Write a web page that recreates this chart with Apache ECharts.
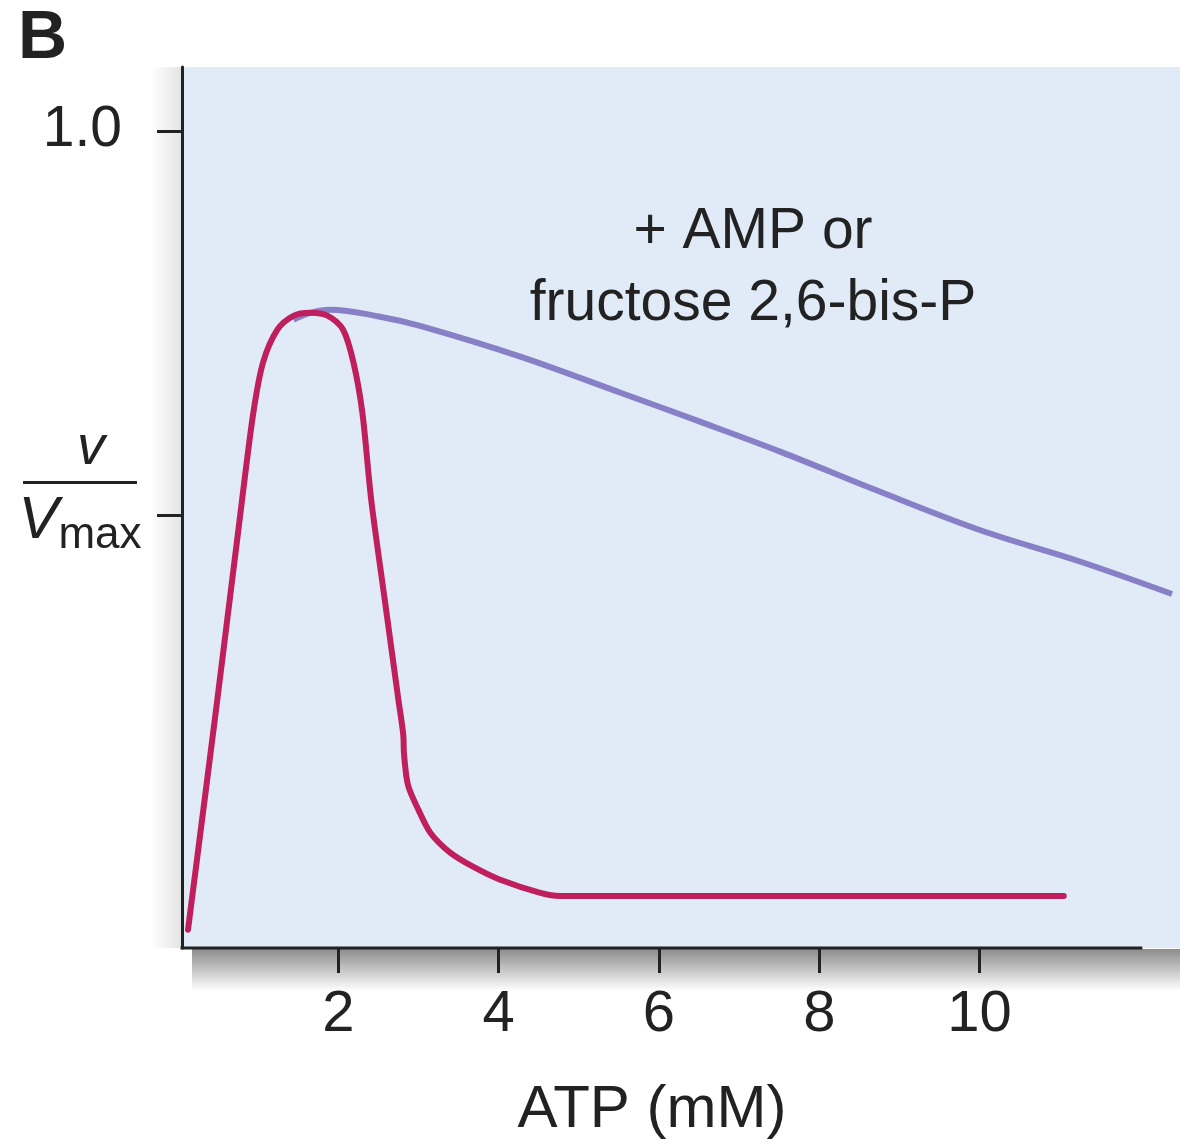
<!DOCTYPE html>
<html>
<head>
<meta charset="utf-8">
<script src="https://cdn.jsdelivr.net/npm/echarts@6/dist/echarts.min.js"></script>
<style>
  html, body { margin: 0; padding: 0; background: #fff; }
  #main { width: 1180px; height: 1145px; }
</style>
</head>
<body>
<div id="main"></div>
<script>
// ATP (mM) vs v/Vmax
var atpNoActivator = [0.125, 0.49, 0.80, 0.94, 1.06, 1.24, 1.44, 1.65, 1.87, 2.06, 2.19, 2.30, 2.41, 2.58, 2.75, 2.81, 2.82, 2.87, 3.0, 3.15, 3.40, 3.68, 4.02, 4.52, 4.77, 11.05];
var vNoActivator   = [-0.040, 0.259, 0.520, 0.633, 0.698, 0.741, 0.759, 0.763, 0.759, 0.741, 0.698, 0.633, 0.520, 0.389, 0.259, 0.214, 0.188, 0.148, 0.116, 0.086, 0.060, 0.042, 0.025, 0.008, 0.004, 0.004];

var atpActivator = [1.44, 1.65, 1.90, 2.52, 3.02, 4.27, 5.52, 6.52, 7.52, 8.76, 10.01, 11.26, 12.40];
var vActivator   = [0.754, 0.763, 0.767, 0.758, 0.746, 0.706, 0.659, 0.621, 0.582, 0.530, 0.480, 0.439, 0.397];

var xTicks = [2, 4, 6, 8, 10];
var yTicks = [0.5, 1.0];
var yLabels = [1.0];

var xMin = 0.05, xMax = 12.5, xAxisEnd = 12.03;
var yMin = -0.0638, yMax = 1.083;

function pairs(xs, ys) {
  var out = [];
  for (var i = 0; i < xs.length; i++) out.push([xs[i], ys[i]]);
  return out;
}

var ink = '#222';
var chart = echarts.init(document.getElementById('main'));

var option = {
  animation: false,
  backgroundColor: '#fff',
  textStyle: { fontFamily: 'Liberation Sans' },
  title: {
    text: 'B', left: 13, top: 0,
    textStyle: { fontSize: 68, fontWeight: 'bold', color: ink, fontFamily: 'Liberation Sans' }
  },
  grid: {
    left: 182, right: 0, top: 67, bottom: 197,
    outerBoundsMode: 'none', containLabel: false,
    show: true, backgroundColor: '#e0ebf7', borderWidth: 0
  },
  xAxis: {
    type: 'value', min: xMin, max: xMax,
    axisLine: { show: false, onZero: false },
    splitLine: { show: false },
    axisTick: { customValues: xTicks, length: 25, lineStyle: { color: ink, width: 3 } },
    axisLabel: { customValues: xTicks, margin: 38, fontSize: 58, color: ink },
    name: 'ATP (mM)', nameLocation: 'middle', nameGap: 132, nameMoveOverlap: false,
    nameTextStyle: { fontSize: 60, color: ink, padding: [0, 58, 0, 0] }
  },
  yAxis: {
    type: 'value', min: yMin, max: yMax,
    axisLine: { show: true, onZero: false, lineStyle: { color: ink, width: 3 } },
    splitLine: { show: false },
    axisTick: { customValues: yTicks, length: 25, lineStyle: { color: ink, width: 3 } },
    axisLabel: {
      customValues: yLabels, margin: 60, fontSize: 57, color: ink,
      formatter: function (v) { return v.toFixed(1); }
    },
    name: '{v|v}\n{bar|}\n{V|V}{sub|max}',
    nameLocation: 'middle', nameRotate: 0, nameGap: 102, nameMoveOverlap: false,
    nameTextStyle: {
      align: 'center', color: ink, padding: [0, 0, 40, 0],
      rich: {
        v: { fontSize: 56, fontStyle: 'italic', lineHeight: 52, color: ink, padding: [0, 0, 0, 22] },
        bar: { width: 114, height: 3, backgroundColor: ink, lineHeight: 16 },
        V: { fontSize: 60, fontStyle: 'italic', lineHeight: 62, color: ink },
        sub: { fontSize: 44, lineHeight: 62, padding: [28, 0, 0, 0], color: ink }
      }
    }
  },
  series: [
    {
      name: '+ AMP or fructose 2,6-bis-P',
      type: 'line',
      data: pairs(atpActivator, vActivator),
      smooth: 0.35,
      showSymbol: false,
      clip: false,
      lineStyle: { color: '#8880c6', width: 6 },
      z: 3
    },
    {
      name: 'ATP alone',
      type: 'line',
      data: pairs(atpNoActivator, vNoActivator),
      smooth: 0.3,
      showSymbol: false,
      clip: false,
      lineStyle: { color: '#bf1f5d', width: 6, cap: 'round' },
      z: 4
    }
  ]
};

chart.setOption(option);

// shadow under the x axis, the shortened axis line and the curve note
var a0 = chart.convertToPixel({ gridIndex: 0 }, [xMin, yMin]);
var a1 = chart.convertToPixel({ gridIndex: 0 }, [xAxisEnd, yMin]);
var gridRight = chart.convertToPixel({ gridIndex: 0 }, [xMax, yMin]);
var gridTop = chart.convertToPixel({ gridIndex: 0 }, [xMin, yMax]);

chart.setOption({
  graphic: [
    {
      type: 'rect', z: -1,
      shape: { x: a0[0] + 10, y: a0[1] + 1, width: gridRight[0] - a0[0], height: 42 },
      style: {
        fill: new echarts.graphic.LinearGradient(0, 0, 0, 1, [
          { offset: 0, color: 'rgba(0,0,0,0.45)' },
          { offset: 1, color: 'rgba(0,0,0,0)' }
        ])
      }
    },
    {
      type: 'rect', z: -1,
      shape: { x: a0[0] - 32, y: gridTop[1], width: 31, height: a0[1] - gridTop[1] },
      style: {
        fill: new echarts.graphic.LinearGradient(0, 0, 1, 0, [
          { offset: 0, color: 'rgba(0,0,0,0)' },
          { offset: 1, color: 'rgba(0,0,0,0.10)' }
        ])
      }
    },
    {
      type: 'line', z: 10,
      shape: { x1: a0[0] - 1.5, y1: a0[1], x2: a1[0], y2: a1[1] },
      style: { stroke: ink, lineWidth: 3 }
    },
    {
      type: 'text', z: 10,
      x: 753, y: 268,
      style: {
        text: '+ AMP or\nfructose 2,6-bis-P',
        fontSize: 57, lineHeight: 72, fill: ink,
        fontFamily: 'Liberation Sans',
        align: 'center', verticalAlign: 'middle'
      }
    }
  ]
});
</script>
</body>
</html>
